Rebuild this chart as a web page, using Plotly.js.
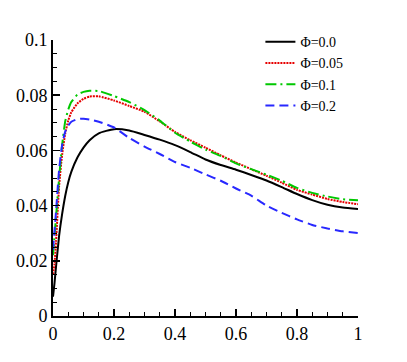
<!DOCTYPE html>
<html>
<head>
<meta charset="utf-8">
<script src="https://cdn.plot.ly/plotly-3.0.1.min.js"></script>
<style>
  html, body { margin: 0; padding: 0; background: #fff; }
  #chart { width: 407px; height: 362px; }
</style>
</head>
<body>
<div id="chart"></div>
<script>
// values
const xs = [0, 0.005, 0.01, 0.02, 0.03, 0.04, 0.05, 0.06, 0.08, 0.1, 0.12, 0.15, 0.2, 0.25, 0.3,
	0.35, 0.4, 0.45, 0.5, 0.55, 0.6, 0.65, 0.7, 0.75, 0.8, 0.85, 0.9, 0.95, 1.0];

const phi00 = [0.007, 0.012, 0.018, 0.029, 0.037, 0.0435, 0.0485, 0.0522, 0.0574, 0.0610, 0.0637, 0.0662, 0.0677, 0.0672, 0.0656,
	0.0639, 0.0619, 0.0594, 0.0567, 0.0547, 0.0530, 0.0511, 0.0491, 0.0467, 0.0442, 0.0420, 0.0403, 0.0393, 0.0388];
const phi005 = [0.015, 0.019, 0.027, 0.047, 0.0585, 0.066, 0.0708, 0.0738, 0.077, 0.0787, 0.0795, 0.0796, 0.0781, 0.0761, 0.074,
	0.0705, 0.0667, 0.0637, 0.061, 0.0582, 0.0556, 0.0532, 0.0508, 0.0483, 0.0457, 0.044, 0.0424, 0.0413, 0.0405];
const phi01 = [0.022, 0.029, 0.036, 0.05, 0.062, 0.0705, 0.0748, 0.0775, 0.0802, 0.0812, 0.0816, 0.0815, 0.0797, 0.0775, 0.0746,
	0.0708, 0.0664, 0.0632, 0.0603, 0.058, 0.0553, 0.0532, 0.0512, 0.049, 0.0464, 0.0446, 0.0433, 0.0423, 0.0419];
const phi02 = [0.024, 0.031, 0.038, 0.053, 0.062, 0.0668, 0.069, 0.0704, 0.0713, 0.0715, 0.0712, 0.0704, 0.0683, 0.0645, 0.0614,
	0.0587, 0.0558, 0.0537, 0.0513, 0.049, 0.0462, 0.0436, 0.0400, 0.0374, 0.035, 0.033, 0.0317, 0.0307, 0.0301];

const names = ['\u03A6=0.0', '\u03A6=0.05', '\u03A6=0.1', '\u03A6=0.2'];

const serif = 'Liberation Serif';

function curve(y, name, color, dash) {
	return {
		x: xs, y: y, name: name,
		type: 'scatter', mode: 'lines',
		line: {color: color, width: 2, dash: dash, shape: 'spline', smoothing: 0.5}
	};
}

const data = [
	curve(phi00, names[0], 'black', 'solid'),
	curve(phi005, names[1], 'rgb(230,0,0)', '2px,1px'),
	curve(phi01, names[2], 'rgb(0,200,0)', '11px,4px,2px,4px'),
	curve(phi02, names[3], 'rgb(40,40,255)', '9px,5px')
];

const axisBase = {
	showline: true, linecolor: 'black', linewidth: 2,
	showgrid: false, zeroline: false,
	ticks: 'inside', ticklen: 7, tickwidth: 1.5, tickcolor: 'black',
	tickfont: {family: serif, size: 18, color: 'black'}
};

const layout = {
	width: 407, height: 362,
	margin: {l: 53, r: 49, t: 40, b: 46},
	paper_bgcolor: 'white', plot_bgcolor: 'white',
	font: {family: serif, color: 'black'},
	xaxis: Object.assign({}, axisBase, {
		range: [0, 1], dtick: 0.2, tick0: 0,
		minor: {dtick: 0.05, ticks: 'inside', ticklen: 4, tickwidth: 1, tickcolor: 'black'}
	}),
	yaxis: Object.assign({}, axisBase, {
		range: [0, 0.1], dtick: 0.02, tick0: 0,
		minor: {dtick: 0.005, ticks: 'inside', ticklen: 4, tickwidth: 1, tickcolor: 'black'}
	}),
	showlegend: true,
	legend: {
		x: 0.68, y: 1.05, xanchor: 'left', yanchor: 'top',
		bgcolor: 'rgba(0,0,0,0)',
		font: {family: serif, size: 14, color: 'black'}
	}
};

Plotly.newPlot('chart', data, layout, {staticPlot: true});
</script>
</body>
</html>
